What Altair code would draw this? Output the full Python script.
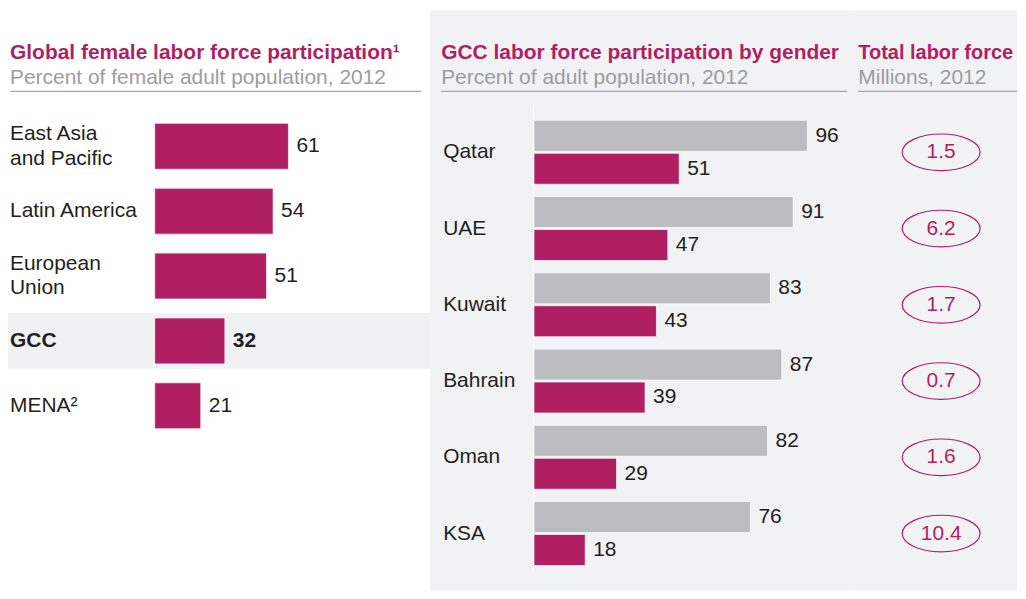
import altair as alt
import pandas as pd

# ---------------- data ----------------
regions = ["East Asia\nand Pacific", "Latin America", "European\nUnion", "GCC", "MENA²"]
female_global = [61, 54, 51, 32, 21]

countries = ["Qatar", "UAE", "Kuwait", "Bahrain", "Oman", "KSA"]
male_rate = [96, 91, 83, 87, 82, 76]
female_rate = [51, 47, 43, 39, 29, 18]
total_force = [1.5, 6.2, 1.7, 0.7, 1.6, 10.4]

titles = ["Global female labor force participation¹",
          "GCC labor force participation by gender",
          "Total labor force"]
subtitles = ["Percent of female adult population, 2012",
             "Percent of adult population, 2012",
             "Millions, 2012"]

# ---------------- style ----------------
FONT = "Liberation Sans"
MAG = "#b01f62"
GRAY_BAR = "#bcbdc0"
BG = "#f1f2f4"
HL = "#f0f1f3"
TXT = "#231f20"
SUB = "#9d9d9d"
LINE = "#a8a8a8"
FS = 21

W1, W2, W3, H = 422, 420, 168, 583
one = pd.DataFrame({"k": [0]})


def header(title, sub, x0, x1, tsize=FS):
    base = alt.Chart(one)
    t = base.mark_text(font=FONT, fontSize=tsize, fontWeight="bold", color=MAG,
                       align="left", baseline="alphabetic").encode(
        x=alt.value(x0), y=alt.value(51), text=alt.value(title))
    s = base.mark_text(font=FONT, fontSize=FS, color=SUB,
                       align="left", baseline="alphabetic").encode(
        x=alt.value(x0), y=alt.value(76), text=alt.value(sub))
    r = base.mark_rule(color=LINE, strokeWidth=1.2).encode(
        x=alt.value(x0), x2=alt.value(x1), y=alt.value(83))
    return [t, s, r]


# ---------------- left panel ----------------
left_df = pd.DataFrame({
    "region": regions,
    "value": female_global,
    "lines": [r.count("\n") + 1 for r in regions],
})
ly = alt.Y("region:N", sort=regions, axis=None,
           scale=alt.Scale(domain=regions, range=[105.5, 430.5],
                           paddingInner=0.292, paddingOuter=0.146))
lx = alt.X("value:Q", axis=None, scale=alt.Scale(domain=[0, 100], range=[146, 365.7]))
lbase = alt.Chart(left_df)
is_gcc = "datum.region == 'GCC'"
single = "datum.region != 'GCC' && datum.lines == 1"
multi = "datum.lines > 1"
plain = "datum.region != 'GCC'"

hl = lbase.transform_filter(is_gcc).mark_bar(size=56, color=HL).encode(
    y=ly, x=alt.value(-1), x2=alt.value(W1))
axis_line = alt.Chart(one).mark_rule(color="white", strokeWidth=1).encode(
    x=alt.value(145.5), y=alt.value(99), y2=alt.value(440))
lbars = lbase.mark_bar(color=MAG, stroke="white", strokeWidth=0.7).encode(y=ly, x=lx)
lnames = lbase.transform_filter(single).mark_text(
    font=FONT, fontSize=FS, color=TXT, align="left", baseline="middle").encode(
    x=alt.value(1), y=ly, text="region:N")
lnames_m = lbase.transform_filter(multi).mark_text(
    font=FONT, fontSize=FS, color=TXT, align="left", baseline="middle",
    lineBreak="\n", lineHeight=25, dy=-12.5).encode(
    x=alt.value(1), y=ly, text="region:N")
lnames_b = lbase.transform_filter(is_gcc).mark_text(
    font=FONT, fontSize=FS, fontWeight="bold", color=TXT, align="left",
    baseline="middle").encode(x=alt.value(1), y=ly, text="region:N")
lvals = lbase.transform_filter(plain).mark_text(
    font=FONT, fontSize=FS, color=TXT, align="left", baseline="middle", dx=8).encode(
    x=lx, y=ly, text="value:Q")
lvals_b = lbase.transform_filter(is_gcc).mark_text(
    font=FONT, fontSize=FS, fontWeight="bold", color=TXT, align="left",
    baseline="middle", dx=8).encode(x=lx, y=ly, text="value:Q")

left = alt.layer(hl, axis_line, lbars, lnames, lnames_m, lnames_b, lvals, lvals_b,
                 *header(titles[0], subtitles[0], 1, 413)).properties(width=W1, height=H)

# ---------------- middle panel ----------------
mid_df = pd.DataFrame({
    "country": countries * 2,
    "gender": ["Male"] * len(countries) + ["Female"] * len(countries),
    "value": male_rate + female_rate,
})
yscale = alt.Scale(domain=countries, range=[105.8, 564.2],
                   paddingInner=0.162, paddingOuter=0.081)
my = alt.Y("country:N", sort=countries, axis=None, scale=yscale)
myo = alt.YOffset("gender:N", sort=["Male", "Female"],
                  scale=alt.Scale(domain=["Male", "Female"], paddingInner=0.06, paddingOuter=0))
mx = alt.X("value:Q", axis=None, scale=alt.Scale(domain=[0, 100], range=[104, 389.4]))
mcolor = alt.Color("gender:N", legend=None,
                   scale=alt.Scale(domain=["Male", "Female"], range=[GRAY_BAR, MAG]))

mbg = alt.Chart(one).mark_rect(color=BG).encode(
    x=alt.value(0), x2=alt.value(W2), y=alt.value(2), y2=alt.value(H))
maxis = alt.Chart(one).mark_rule(color="white", strokeWidth=1).encode(
    x=alt.value(103.5), y=alt.value(99), y2=alt.value(563))
mbase = alt.Chart(mid_df)
mbars = mbase.mark_bar(stroke="white", strokeWidth=0.7).encode(
    y=my, yOffset=myo, x=mx, color=mcolor)
mvals = mbase.mark_text(font=FONT, fontSize=FS, color=TXT, align="left",
                        baseline="middle", dx=8).encode(
    y=my, yOffset=myo, x=mx, text="value:Q")
mnames = alt.Chart(pd.DataFrame({"country": countries})).mark_text(
    font=FONT, fontSize=FS, color=TXT, align="left", baseline="middle").encode(
    x=alt.value(13), y=my, text="country:N")

mid = alt.layer(mbg, maxis, mbars, mvals, mnames,
                *header(titles[1], subtitles[1], 11, 418)).properties(width=W2, height=H)

# ---------------- right panel ----------------
right_df = pd.DataFrame({"country": countries, "total": total_force})
ELLIPSE = "M-1,0A1,0.47,0,1,1,1,0A1,0.47,0,1,1,-1,0Z"
rbg = alt.Chart(one).mark_rect(color=BG).encode(
    x=alt.value(0), x2=alt.value(W3), y=alt.value(2), y2=alt.value(H))
rbase = alt.Chart(right_df)
ry = alt.Y("country:N", sort=countries, axis=None, scale=yscale)
rell = rbase.mark_point(shape=ELLIPSE, size=78 * 78, filled=False, color=MAG,
                        strokeWidth=1.2, opacity=1).encode(x=alt.value(92), y=ry)
rtxt = rbase.mark_text(font=FONT, fontSize=FS, color=MAG, align="center",
                       baseline="middle").encode(
    x=alt.value(92), y=ry, text=alt.Text("total:Q", format=".1f"))

right = alt.layer(rbg, rell, rtxt,
                  *header(titles[2], subtitles[2], 9, W3, tsize=20)).properties(width=W3, height=H)

chart = alt.hconcat(left, mid, right, spacing=0).resolve_scale(
    x="independent", y="independent", color="independent"
).properties(padding=0).configure_view(stroke=None)

chart.save("out.html", embed_options={"renderer": "svg", "actions": False})
